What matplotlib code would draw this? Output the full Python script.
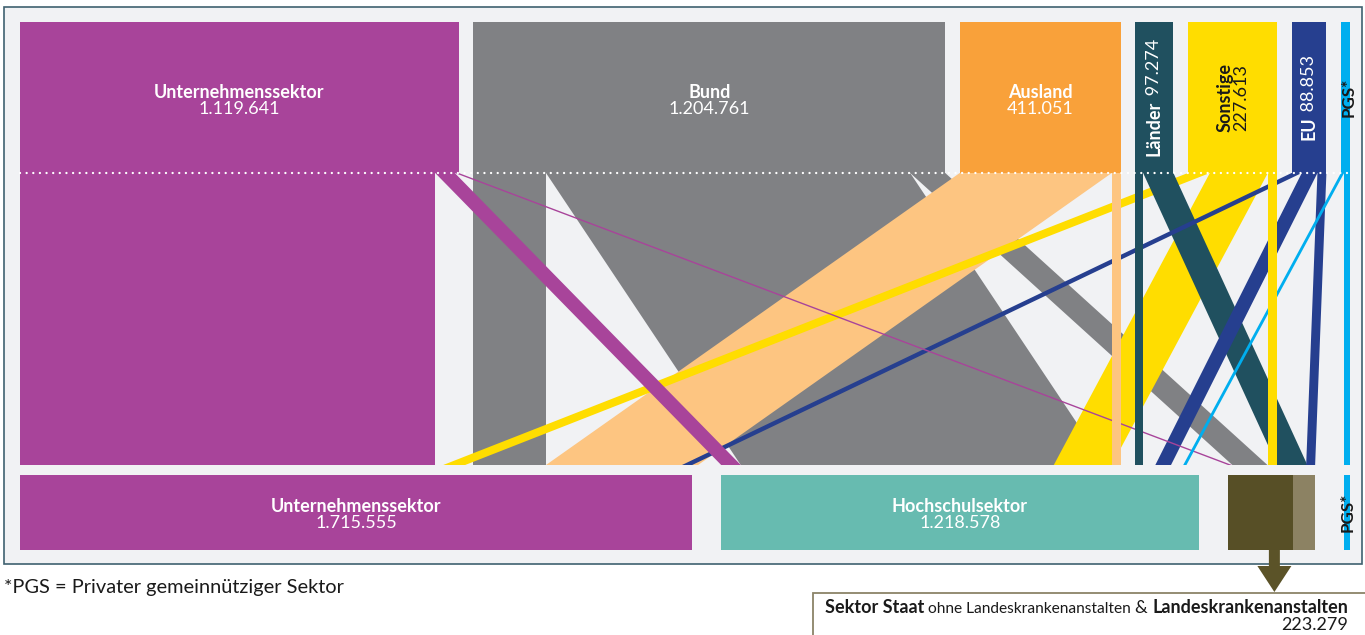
import matplotlib
matplotlib.use('Agg')
import matplotlib.pyplot as plt
from matplotlib.patches import Rectangle, Polygon

plt.rcParams['font.family'] = ['Lato', 'DejaVu Sans']

# --- data -------------------------------------------------------------
# top row: who pays (Finanzierungssektor)
src_labels = ['Unternehmenssektor', 'Bund', 'Ausland', 'Länder', 'Sonstige', 'EU', 'PGS*']
src_values = [1119641, 1204761, 411051, 97274, 227613, 88853, 23219]
# bottom row: who carries out (Durchführungssektor)
dst_labels = ['Unternehmenssektor', 'Hochschulsektor', 'Sektor Staat', 'PGS*']
dst_values = [1715555, 1218578, 223279, 15000]
staat_lka = 56000   # Landeskrankenanstalten part of the Staat box

# flows source -> target
flow_src = [0, 0, 0, 1, 1, 1, 2, 2, 3, 3, 4, 4, 4, 5, 5, 5, 6, 6]
flow_dst = [0, 1, 2, 0, 1, 2, 0, 1, 1, 2, 0, 1, 2, 0, 1, 2, 1, 3]
flow_val = [1059641, 50000, 10000,
            185863, 929359, 89539,
            388051, 23000,
            20000, 77274,
            56000, 148000, 23613,
            26000, 40000, 22853,
            8219, 15000]

# --- styling / layout --------------------------------------------------
purple, grey, orange, peach = '#a8449a', '#808184', '#f9a13a', '#fdc581'
dteal, yellow, navy, cyan = '#20505f', '#ffdd00', '#263f8f', '#00aeef'
src_box_col = [purple, grey, orange, dteal, yellow, navy, cyan]
src_flow_col = [purple, grey, peach, dteal, yellow, navy, cyan]
dst_col = [purple, '#67bbb0', '#574f26', cyan]
staat_light = '#8c8263'
bg = '#f1f2f4'
ink = '#1a1a1a'

# order of the bands at the lower end of each target
dst_order = [[0, 4, 1, 2, 5], [0, 1, 4, 2, 3, 5, 6], [0, 1, 4, 3, 5], [6]]
straight = [(0, 0), (1, 0), (2, 1), (3, 1), (4, 2), (6, 3)]   # bands drawn vertically
draw_src = [1, 2, 4, 3, 5, 0, 6]

X0, X1 = 20, 1350
TY0, TY1 = 22, 173
FY1 = 465
BY0, BY1 = 475, 550
GAP_TOP = 14.5

W, H = 1365, 635
fig = plt.figure(figsize=(W / 100, H / 100), dpi=100)
ax = fig.add_axes([0, 0, 1, 1])
ax.set_xlim(0, W)
ax.set_ylim(H, 0)
ax.axis('off')
rend = fig.canvas.get_renderer()

def pt(px):
    return px * 0.72

k = (X1 - X0 - GAP_TOP * (len(src_values) - 1)) / sum(src_values)
gap_bot = (X1 - X0 - k * sum(dst_values)) / (len(dst_values) - 1)

src_x, x = [], X0
for v in src_values:
    src_x.append(x)
    x += v * k + GAP_TOP
dst_x, x = [], X0
for v in dst_values:
    dst_x.append(x)
    x += v * k + gap_bot

nf = len(flow_val)
fw = [v * k for v in flow_val]
xt = [0.0] * nf
cur = list(src_x)
for i in range(nf):
    s = flow_src[i]
    xt[i] = cur[s]
    cur[s] += fw[i]

xb = [0.0] * nf
def place(seg, lo, hi):
    if not seg:
        return
    tot = sum(fw[i] for i in seg)
    free = hi - lo - tot
    if free >= -1e-6:
        gap = free / (len(seg) + 1)
        x = lo + gap
        for i in seg:
            xb[i] = x
            x += fw[i] + gap
    else:
        x = lo
        for i in seg[:-1]:
            xb[i] = x
            x += fw[i]
        xb[seg[-1]] = hi - fw[seg[-1]]

for d, order in enumerate(dst_order):
    lo, hi = dst_x[d], dst_x[d] + dst_values[d] * k
    seg = []
    for s in order:
        i = [j for j in range(nf) if flow_src[j] == s and flow_dst[j] == d][0]
        if (s, d) in straight:
            place(seg, lo, xt[i])
            seg = []
            xb[i] = xt[i]
            lo = xt[i] + fw[i]
        else:
            seg.append(i)
    place(seg, lo, hi)

# panel
ax.add_patch(Rectangle((4, 7), 1358, 557, facecolor=bg, edgecolor='#3f6170', lw=1.2, zorder=0))

# flows
z = 2
for s in draw_src:
    for i in range(nf):
        if flow_src[i] != s or (s, flow_dst[i]) in straight:
            continue
        ax.add_patch(Polygon([(xt[i], TY1), (xt[i] + fw[i], TY1), (xb[i] + fw[i], FY1), (xb[i], FY1)],
                             closed=True, facecolor=src_flow_col[s], edgecolor='none', zorder=z))
        z += 0.01
for i in range(nf):
    if (flow_src[i], flow_dst[i]) in straight:
        zz = 1.5 if flow_src[i] in (0, 1) else 3
        ax.add_patch(Polygon([(xt[i], TY1), (xt[i] + fw[i], TY1), (xb[i] + fw[i], FY1), (xb[i], FY1)],
                             closed=True, facecolor=src_flow_col[flow_src[i]], edgecolor='none', zorder=zz))

# top boxes
for s, v in enumerate(src_values):
    ax.add_patch(Rectangle((src_x[s], TY0), v * k, TY1 - TY0, facecolor=src_box_col[s],
                           edgecolor='none', zorder=4))
ax.plot([X0, X1 + 2], [TY1, TY1], color='white', lw=1.7, linestyle=(0, (0.01, 2.8)),
        dash_capstyle='round', zorder=5)

# bottom boxes
for d, v in enumerate(dst_values):
    ax.add_patch(Rectangle((dst_x[d], BY0), v * k, BY1 - BY0, facecolor=dst_col[d],
                           edgecolor='none', zorder=4))
ax.add_patch(Rectangle((dst_x[2] + (dst_values[2] - staat_lka) * k, BY0), staat_lka * k, BY1 - BY0,
                       facecolor=staat_light, edgecolor='none', zorder=4.5))

# text helpers
def measure(s, wt, px):
    t = ax.text(0, 0, s, fontsize=pt(px), fontweight=wt)
    w = t.get_window_extent(rend).width
    t.remove()
    return w

def line(pieces, cx, cy, rot=False, color='white', align='center'):
    widths = [measure(s, wt, px) for s, wt, px in pieces]
    tot = sum(widths)
    pos = {'center': -tot / 2, 'right': -tot, 'left': 0}[align]
    for (s, wt, px), w in zip(pieces, widths):
        if rot:
            ax.text(cx, cy - pos, s, rotation=90, rotation_mode='anchor', ha='left', va='center',
                    fontsize=pt(px), fontweight=wt, color=color, zorder=6)
        else:
            ax.text(cx + pos, cy, s, ha='left', va='baseline', fontsize=pt(px),
                    fontweight=wt, color=color, zorder=6)
        pos += w

def fmt(v):
    return f'{v:,}'.replace(',', '.')

LP = 18
ty_mid = (TY0 + TY1) / 2
for s in range(3):
    cx = src_x[s] + src_values[s] * k / 2
    line([(src_labels[s], 'bold', LP)], cx, ty_mid + 0.5)
    line([(fmt(src_values[s]), 'normal', LP)], cx, ty_mid + 16)
for s in (3, 5):
    cx = src_x[s] + src_values[s] * k / 2
    line([(src_labels[s], 'bold', LP), (' ' + fmt(src_values[s]), 'normal', LP)], cx, ty_mid, rot=True)
cx = src_x[4] + src_values[4] * k / 2
line([(src_labels[4], 'bold', LP)], cx - 7, ty_mid, rot=True, color=ink)
line([(fmt(src_values[4]), 'normal', LP)], cx + 9, ty_mid, rot=True, color=ink)
line([(src_labels[6], 'bold', 17)], src_x[6] + src_values[6] * k / 2 + 3, ty_mid, rot=True, color=ink)

by_mid = (BY0 + BY1) / 2
for d in range(2):
    cx = dst_x[d] + dst_values[d] * k / 2
    line([(dst_labels[d], 'bold', LP)], cx, by_mid)
    line([(fmt(dst_values[d]), 'normal', LP)], cx, by_mid + 16)
line([(dst_labels[3], 'bold', 17)], dst_x[3] + dst_values[3] * k / 2 + 1, by_mid, rot=True, color=ink)

# arrow from Staat box to its label
acx = dst_x[2] + dst_values[2] * k / 2 + 3
ax.add_patch(Polygon([(acx - 5.5, BY1), (acx + 5.5, BY1), (acx + 5.5, 566), (acx + 17, 566),
                      (acx, 592), (acx - 17, 566), (acx - 5.5, 566)],
                     closed=True, facecolor='#5b5328', edgecolor='none', zorder=4))
ax.add_patch(Rectangle((813, 593), 600, 60, facecolor='white', edgecolor='#8b8468', lw=1.3, zorder=3))
line([('Sektor Staat', 'bold', 18), (' ohne Landeskrankenanstalten ', 'normal', 15.5),
      ('& ', 'normal', 18), ('Landeskrankenanstalten', 'bold', 18)], 1348, 613, color=ink, align='right')
line([(fmt(dst_values[2]), 'normal', 18)], 1348, 630, color=ink, align='right')

ax.text(4, 587, '*PGS = Privater gemeinnütziger Sektor', fontsize=pt(20), ha='left', va='center', color=ink)

fig.savefig('out.png', dpi=100)
